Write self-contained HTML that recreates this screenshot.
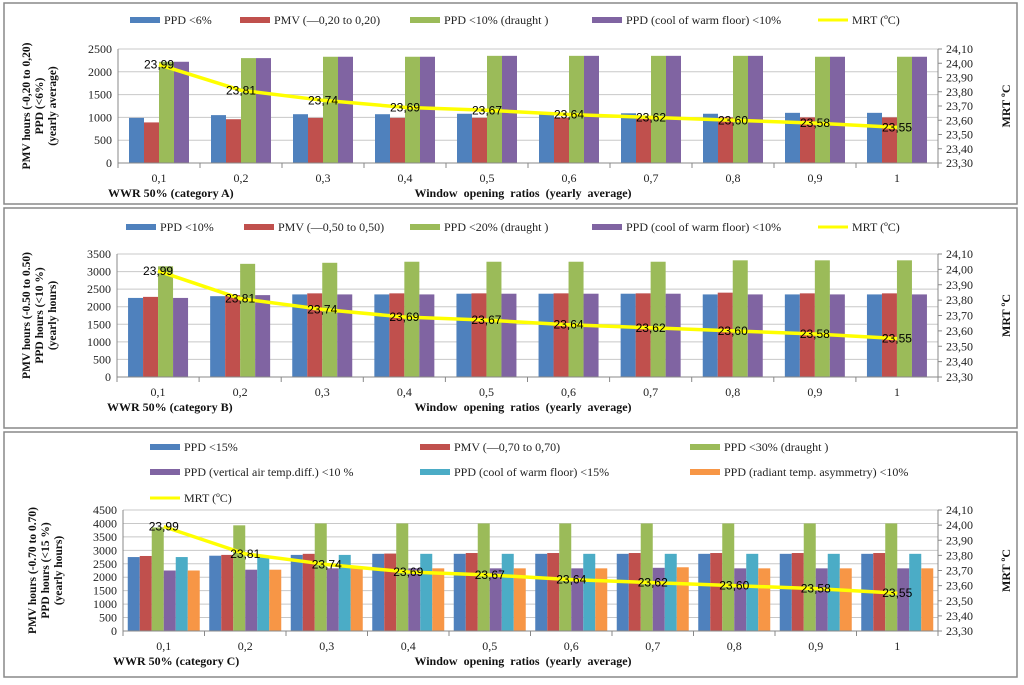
<!DOCTYPE html>
<html><head><meta charset="utf-8"><style>
body{margin:0;background:#fff;width:1024px;height:680px;overflow:hidden}
svg{font-family:"Liberation Serif",serif}
</style></head><body>
<svg id="c" width="1024" height="680"></svg>
<script>
const categories=["0,1","0,2","0,3","0,4","0,5","0,6","0,7","0,8","0,9","1"];
const mrtValues=[23.99,23.81,23.74,23.69,23.67,23.64,23.62,23.60,23.58,23.55];
const mrtTicks=["24,10","24,00","23,90","23,80","23,70","23,60","23,50","23,40","23,30"];
// Panel A
const aPpd6=[990,1050,1070,1070,1080,1080,1090,1080,1100,1100];
const aPmv=[890,960,990,990,990,990,990,1000,1000,1000];
const aDraught=[2220,2300,2330,2330,2350,2350,2350,2350,2330,2330];
const aFloor=[2220,2300,2330,2330,2350,2350,2350,2350,2330,2330];
const aTicks=[0,500,1000,1500,2000,2500];
// Panel B
const bPpd10=[2250,2300,2350,2350,2370,2370,2370,2350,2350,2350];
const bPmv=[2280,2330,2380,2380,2380,2380,2380,2400,2380,2380];
const bDraught=[3150,3220,3250,3280,3280,3280,3280,3320,3320,3320];
const bFloor=[2250,2330,2350,2350,2370,2370,2370,2350,2350,2350];
const bTicks=[0,500,1000,1500,2000,2500,3000,3500];
// Panel C
const cPpd15=[2750,2800,2830,2870,2870,2870,2870,2870,2870,2870];
const cPmv=[2790,2830,2870,2880,2900,2900,2900,2900,2900,2900];
const cDraught=[3850,3930,4000,4000,4000,4000,4000,4000,4000,4000];
const cVert=[2250,2280,2330,2330,2330,2330,2350,2330,2330,2330];
const cFloor=[2750,2750,2830,2870,2870,2870,2870,2870,2870,2870];
const cRad=[2250,2280,2330,2330,2330,2330,2370,2330,2330,2330];
const cTicks=[0,500,1000,1500,2000,2500,3000,3500,4000,4500];

const NS="http://www.w3.org/2000/svg";
const svg=document.getElementById('c');
function el(tag,attrs,parent,text){const e=document.createElementNS(NS,tag);for(const k in attrs)e.setAttribute(k,attrs[k]);if(text!==undefined)e.textContent=text;(parent||svg).appendChild(e);return e;}

function panel(p){
  const g=el('g',{});
  
  
  const fr=el('rect',{x:p.fx,y:p.fy,width:p.fw,height:p.fh,fill:'#fff',stroke:'#888','stroke-width':1.5},g);
  
  
  const L=p.x0,R=p.x1,T=p.y0,B=p.y1,max=p.max;
  const yv=v=>B-(v/max)*(B-T);
  const ym=v=>B-(v-23.30)/0.8*(B-T);
  const cw=(R-L)/categories.length;
  // grid + left ticks
  p.ticks.forEach(t=>{
    const y=yv(t);
    const gl=el('line',{x1:L,x2:R,y1:y,y2:y,stroke:'#c8c8c8','stroke-width':1},g);
    
    
    const tl=el('text',{x:L-6,y:y+4,'text-anchor':'end','font-size':12,fill:'#222'},g,t);
    
    
  });
  mrtTicks.forEach((t,i)=>{
    const y=T+i*(B-T)/(mrtTicks.length-1);
    el('line',{x1:R,x2:R+4,y1:y,y2:y,stroke:'#888'},g);
    const tl=el('text',{x:R+8,y:y+4,'font-size':12,fill:'#222'},g,t);
    
    
  });
  // bars
  const n=p.series.length, bw=p.bw, gw=bw*n;
  p.series.forEach((s,si)=>{
    s.data.forEach((v,i)=>{
      const x=L+i*cw+(cw-gw)/2+si*bw;
      const r=el('rect',{x:x,y:yv(v),width:bw,height:B-yv(v),fill:s.color},g);
      
      
    });
  });
  // axes
  el('line',{x1:L,x2:L,y1:T,y2:B,stroke:'#888'},g);
  el('line',{x1:R,x2:R,y1:T,y2:B,stroke:'#888'},g);
  el('line',{x1:L,x2:R,y1:B,y2:B,stroke:'#888'},g);
  categories.forEach((c,i)=>{
    el('line',{x1:L+i*cw,x2:L+i*cw,y1:B,y2:B+5,stroke:'#888'},g);
    const tl=el('text',{x:L+(i+0.5)*cw,y:B+19,'text-anchor':'middle','font-size':12,fill:'#222'},g,c);
    
    
  });
  el('line',{x1:R,x2:R,y1:B,y2:B+5,stroke:'#888'},g);
  // MRT line
  const pts=mrtValues.map((v,i)=>[L+(i+0.5)*cw,ym(v)]);
  const ln=el('polyline',{points:pts.map(q=>q.join(',')).join(' '),fill:'none',stroke:'#ffff00','stroke-width':3.5,'stroke-linejoin':'round'},g);
  
  
  mrtValues.forEach((v,i)=>{
    const tl=el('text',{x:pts[i][0],y:pts[i][1]+4,'text-anchor':'middle','font-size':12,'font-family':'Liberation Sans, sans-serif',fill:'#000'},g,v.toFixed(2).replace('.',','));
    
    
  });
  // titles
  const yt=el('text',{transform:`translate(${p.ytx},${(T+B)/2}) rotate(-90)`,'text-anchor':'middle','font-size':11.5,'font-weight':'bold',fill:'#111'},g);
  
  
  p.ytitle.forEach((line,i)=>el('tspan',{x:0,dy:i===0?0:13},yt,line));
  const y2=el('text',{transform:`translate(${R+72},${(T+B)/2}) rotate(-90)`,'text-anchor':'middle','font-size':12,'font-weight':'bold',fill:'#111'},g,'MRT ºC');
  
  
  const ct=el('text',{x:L-10,y:B+34,'font-size':12,'font-weight':'bold',fill:'#111'},g,p.cat);
  
  
  const xt=el('text',{x:523,y:B+34,'text-anchor':'middle','font-size':12,'font-weight':'bold',fill:'#111','word-spacing':3},g,'Window opening ratios (yearly average)');
  
  
  // legend
  p.legend.forEach(e=>{
    const lg=el('g',{},g);
    
    
    if(e.line) el('line',{x1:e.x,x2:e.x+30,y1:e.y,y2:e.y,stroke:'#ffff00','stroke-width':3},lg);
    else el('rect',{x:e.x,y:e.y-3,width:30,height:6,fill:e.color},lg);
    el('text',{x:e.x+34,y:e.y+4,'font-size':12,fill:'#222'},lg,e.label);
  });
}
const BL='#4f81bd',RD='#c0504d',GR='#9bbb59',PU='#8064a2',CY='#4bacc6',OR='#f79646';
panel({name:'panel-category-a',fx:4,fy:3,fw:1013,fh:201,x0:118,x1:938,y0:49,y1:163,max:2500,ticks:aTicks,bw:15,ytx:30,
 ytitle:['PMV hours (-0,20 to 0,20)','PPD (<6%)','(yearly average)'],cat:'WWR 50% (category A)',
 series:[{key:'ppd6',data:aPpd6,color:BL},{key:'pmv',data:aPmv,color:RD},{key:'draught',data:aDraught,color:GR},{key:'floor',data:aFloor,color:PU}],
 legend:[{x:130,y:20,color:BL,label:'PPD <6%'},{x:240,y:20,color:RD,label:'PMV (—0,20 to 0,20)'},{x:410,y:20,color:GR,label:'PPD <10% (draught )'},{x:592,y:20,color:PU,label:'PPD (cool of warm floor) <10%'},{x:818,y:20,line:1,label:'MRT (ºC)'}]});
panel({name:'panel-category-b',fx:4,fy:208,fw:1013,fh:220,x0:117,x1:938,y0:254,y1:377,max:3500,ticks:bTicks,bw:15,ytx:30,
 ytitle:['PMV hours (-0.50 to 0.50)','PPD hours (<10 %)','(yearly hours)'],cat:'WWR 50% (category B)',
 series:[{key:'ppd10',data:bPpd10,color:BL},{key:'pmv',data:bPmv,color:RD},{key:'draught',data:bDraught,color:GR},{key:'floor',data:bFloor,color:PU}],
 legend:[{x:126,y:227,color:BL,label:'PPD <10%'},{x:244,y:227,color:RD,label:'PMV (—0,50 to 0,50)'},{x:410,y:227,color:GR,label:'PPD <20% (draught )'},{x:592,y:227,color:PU,label:'PPD (cool of warm floor) <10%'},{x:818,y:227,line:1,label:'MRT (ºC)'}]});
panel({name:'panel-category-c',fx:4,fy:432,fw:1013,fh:245,x0:123,x1:938,y0:510,y1:631,max:4500,ticks:cTicks,bw:12,ytx:36,
 ytitle:['PMV hours (-0.70 to 0.70)','PPD hours (<15 %)','(yearly hours)'],cat:'WWR 50% (category C)',
 series:[{key:'ppd15',data:cPpd15,color:BL},{key:'pmv',data:cPmv,color:RD},{key:'draught',data:cDraught,color:GR},{key:'vertical',data:cVert,color:PU},{key:'floor',data:cFloor,color:CY},{key:'radiant',data:cRad,color:OR}],
 legend:[{x:150,y:447,color:BL,label:'PPD <15%'},{x:420,y:447,color:RD,label:'PMV (—0,70 to 0,70)'},{x:690,y:447,color:GR,label:'PPD <30% (draught )'},
  {x:150,y:472,color:PU,label:'PPD (vertical air temp.diff.) <10 %'},{x:420,y:472,color:CY,label:'PPD (cool of warm floor) <15%'},{x:690,y:472,color:OR,label:'PPD (radiant temp. asymmetry) <10%'},
  {x:150,y:498,line:1,label:'MRT (ºC)'}]});
</script>
</body></html>
